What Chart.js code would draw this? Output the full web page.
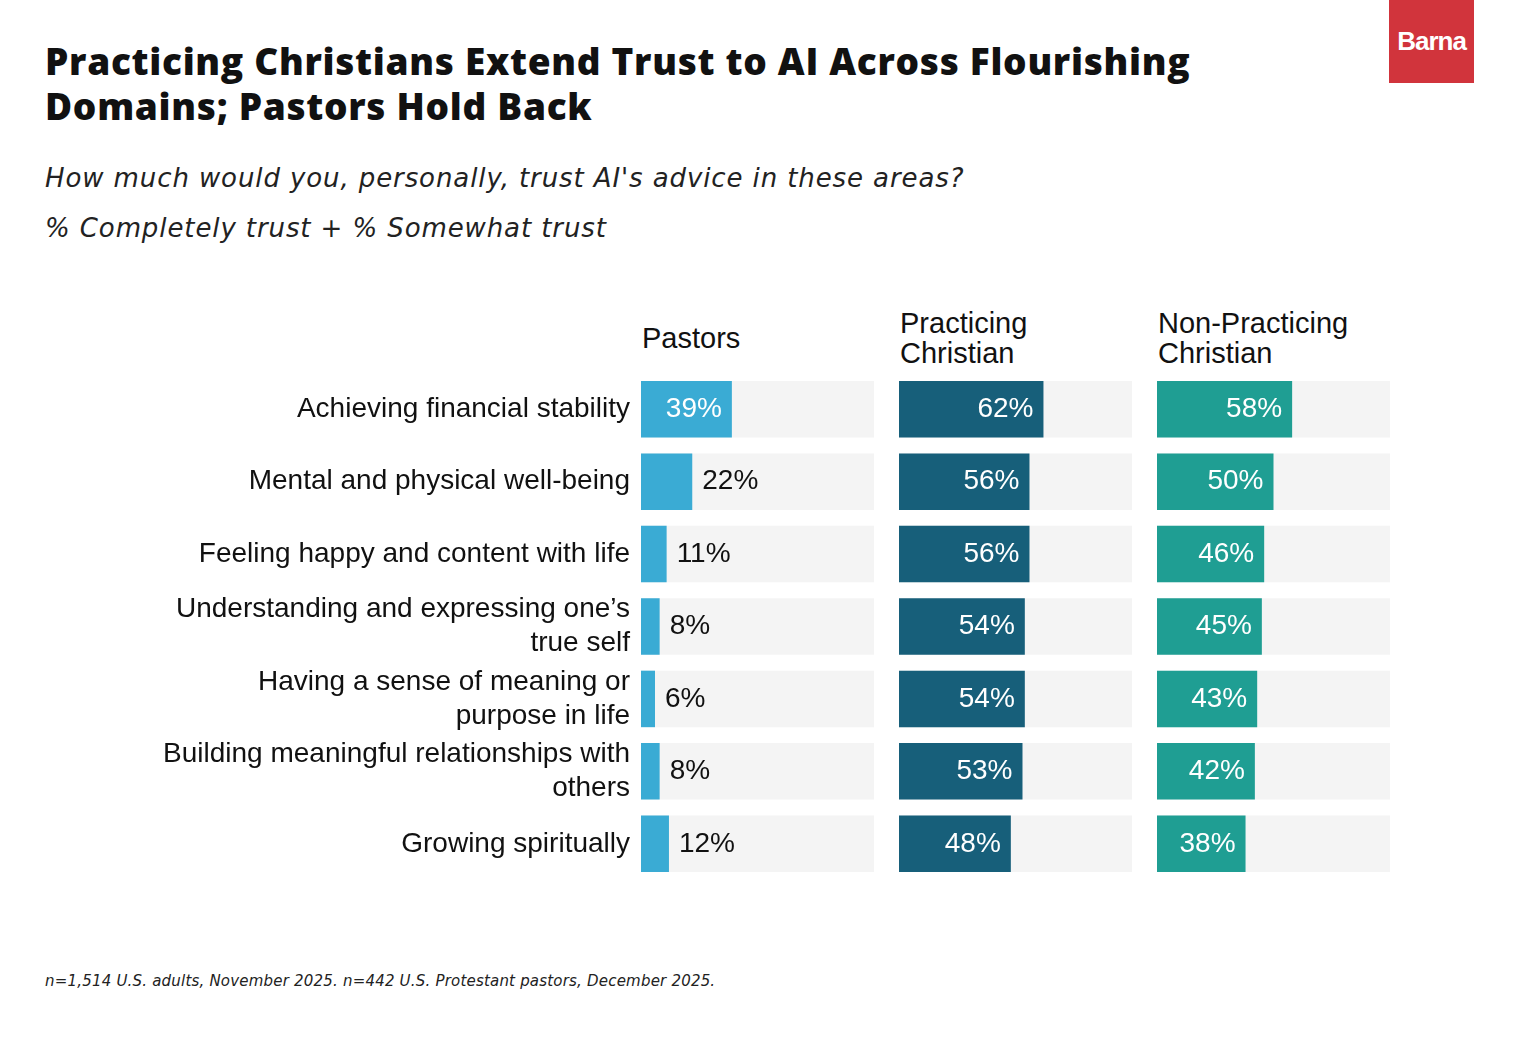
<!DOCTYPE html>
<html>
<head>
<meta charset="utf-8">
<script src="https://cdn.jsdelivr.net/npm/chart.js@4"></script>
<style>
  body { margin: 0; background: #fff; width: 1536px; height: 1062px; position: relative; overflow: hidden; font-family: "Liberation Sans", Arial, sans-serif; }
  .abs { position: absolute; }
  #title { left: 45px; top: 38px; font-family: "Open Sans"; font-weight: 800; font-size: 37px; line-height: 45px; color: #111; letter-spacing: 0.7px; }
  .sub { left: 45px; font-family: "DejaVu Sans"; font-style: italic; font-size: 26px; letter-spacing: 0.9px; color: #222; }
  #foot { left: 45px; top: 972px; font-family: "DejaVu Sans"; font-style: italic; font-size: 15px; letter-spacing: 0.2px; color: #222; }
  #logo { left: 1389px; top: 0; width: 85px; height: 83px; background: #d1343c; color: #fff; font-weight: bold; font-size: 26px; text-align: center; line-height: 82px; letter-spacing: -1px; }
  .head { font-size: 29px; line-height: 30px; color: #111; }
</style>
</head>
<body>
<div id="title" class="abs">Practicing Christians Extend Trust to AI Across Flourishing<br>Domains; Pastors Hold Back</div>
<div class="abs sub" style="top:163px">How much would you, personally, trust AI's advice in these areas?</div>
<div class="abs sub" style="top:213px">% Completely trust + % Somewhat trust</div>
<div id="logo" class="abs">Barna</div>
<div class="abs head" style="left:642px;top:323px">Pastors</div>
<div class="abs head" style="left:900px;top:308px">Practicing<br>Christian</div>
<div class="abs head" style="left:1158px;top:308px">Non-Practicing<br>Christian</div>
<canvas id="c0" class="abs" style="left:0;top:373px"></canvas>
<canvas id="c1" class="abs" style="left:899px;top:373px"></canvas>
<canvas id="c2" class="abs" style="left:1157px;top:373px"></canvas>
<div id="foot" class="abs">n=1,514 U.S. adults, November 2025. n=442 U.S. Protestant pastors, December 2025.</div>
<script>
var categories = [
  "Achieving financial stability",
  "Mental and physical well-being",
  "Feeling happy and content with life",
  ["Understanding and expressing one\u2019s", "true self"],
  ["Having a sense of meaning or", "purpose in life"],
  ["Building meaningful relationships with", "others"],
  "Growing spiritually"
];
var pastors = [39, 22, 11, 8, 6, 8, 12];
var practicing = [62, 56, 56, 54, 54, 53, 48];
var nonPracticing = [58, 50, 46, 45, 43, 42, 38];
var track = [100, 100, 100, 100, 100, 100, 100];

var valueLabels = {
  id: 'valueLabels',
  afterDatasetsDraw: function (chart) {
    var ctx = chart.ctx;
    var meta = chart.getDatasetMeta(1);
    var data = chart.data.datasets[1].data;
    ctx.save();
    ctx.font = '28px "Liberation Sans", Arial, sans-serif';
    ctx.textBaseline = 'middle';
    meta.data.forEach(function (bar, i) {
      var v = data[i];
      if (v >= 30) {
        ctx.fillStyle = '#fff';
        ctx.textAlign = 'right';
        ctx.fillText(v + '%', bar.x - 10, bar.y);
      } else {
        ctx.fillStyle = '#111';
        ctx.textAlign = 'left';
        ctx.fillText(v + '%', bar.x + 10, bar.y);
      }
    });
    ctx.restore();
  }
};

function makeChart(id, values, color, showLabels) {
  var canvas = document.getElementById(id);
  canvas.width = showLabels ? 874 : 233;
  canvas.height = 507;
  canvas.style.width = canvas.width + 'px';
  canvas.style.height = '507px';
  new Chart(canvas, {
    type: 'bar',
    data: {
      labels: categories,
      datasets: [
        { data: track, backgroundColor: '#f4f4f4', order: 2, grouped: false },
        { data: values, backgroundColor: color, order: 1, grouped: false }
      ]
    },
    options: {
      indexAxis: 'y',
      responsive: false,
      animation: false,
      layout: { padding: 0 },
      barPercentage: 0.78,
      categoryPercentage: 1,
      plugins: { legend: { display: false }, tooltip: { enabled: false } },
      scales: {
        x: { min: 0, max: 100, display: false },
        y: {
          display: showLabels,
          grid: { display: false, drawTicks: false },
          border: { display: false },
          afterFit: function (s) {
            if (showLabels) s.width = 641;
            s.paddingTop = 0;
            s.paddingBottom = 0;
          },
          ticks: { color: '#111', padding: 11, font: { size: 28, family: '"Liberation Sans", Arial, sans-serif', lineHeight: 1.22 } }
        }
      }
    },
    plugins: [valueLabels]
  });
}

makeChart('c0', pastors, '#3aabd4', true);
makeChart('c1', practicing, '#175f7a', false);
makeChart('c2', nonPracticing, '#1f9e93', false);
</script>
</body>
</html>
